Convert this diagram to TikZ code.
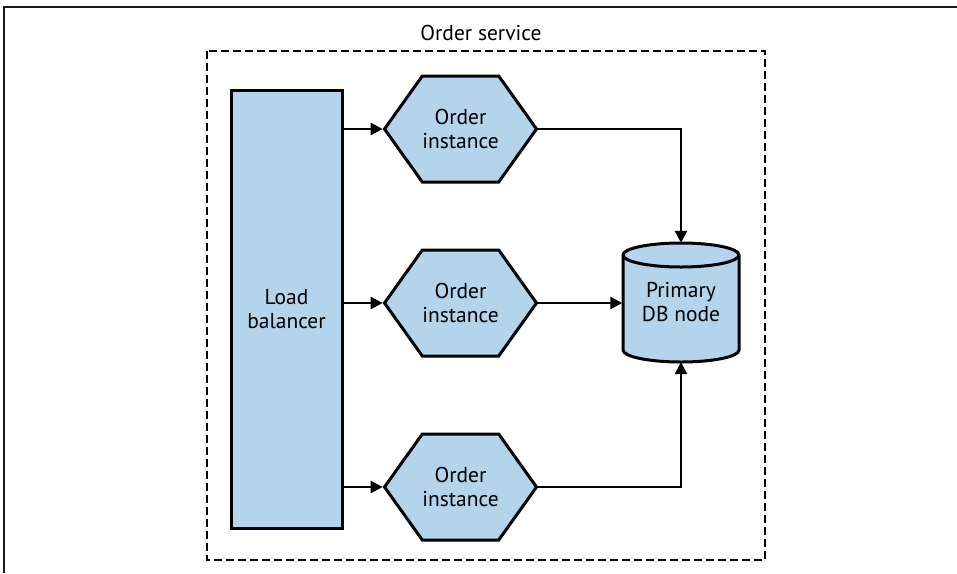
\documentclass[tikz,border=0pt]{standalone}
\usepackage{fontspec}
\setmainfont{PT Sans}
\usetikzlibrary{shapes.symbols,arrows.meta}
\definecolor{boxblue}{HTML}{B3D4EA}
\begin{document}
\begin{tikzpicture}[x=1pt,y=-1pt,
  lbl/.style={font=\fontsize{21.5}{24}\selectfont, align=center, text=black},
  lbbox/.style={lbl, draw, fill=boxblue, line width=3pt, inner sep=0pt, minimum width=111pt, minimum height=438pt},
  hexbox/.style={lbl, shape=signal, signal to=east and west, signal pointer angle=109, draw, fill=boxblue, line width=3pt, inner sep=0pt, minimum width=150pt, minimum height=106pt},
  dbbox/.style={lbl, rectangle, inner sep=0pt, minimum width=117pt, minimum height=119pt},
  arr/.style={line width=2.6pt, -{Triangle[length=12pt,width=12pt]}},
  frameline/.style={line width=2.5pt, black!90},
  svcbox/.style={line width=2.6pt, dash pattern=on 8pt off 4pt}
]
\useasboundingbox (0,0) rectangle (957,573);
\draw[frameline] (4,573) -- (4,7) -- (957,7);
\draw[svcbox] (207,51) rectangle (765,560);
\node[lbl] (title) at (481,33) {Order service};

\node[lbbox] (lb) at (286.5,309) {Load\\balancer};
\node[hexbox] (h1) at (460.5,129) {Order\\instance};
\node[hexbox] (h2) at (460.5,303) {Order\\instance};
\node[hexbox] (h3) at (460.5,487) {Order\\instance};

% cylinder
\draw[line width=3pt, fill=boxblue] (623,255) -- (623,350)
  arc[start angle=180, end angle=360, x radius=58pt, y radius=12pt] -- (739,255)
  arc[start angle=0, end angle=180, x radius=58pt, y radius=12pt] -- cycle;
\draw[line width=3pt] (623,255) arc[start angle=180, end angle=360, x radius=58pt, y radius=12pt];
\node[dbbox] (db) at (681,302.5) {Primary\\DB node};

\draw[arr] (lb.east |- h1.west) -- (h1.west);
\draw[arr] (lb.east |- h2.west) -- (h2.west);
\draw[arr] (lb.east |- h3.west) -- (h3.west);
\draw[arr] (h1.east) -| (db.north);
\draw[arr] (h2.east) -- (db.west |- h2.east);
\draw[arr] (h3.east) -| (db.south);
\end{tikzpicture}
\end{document}
